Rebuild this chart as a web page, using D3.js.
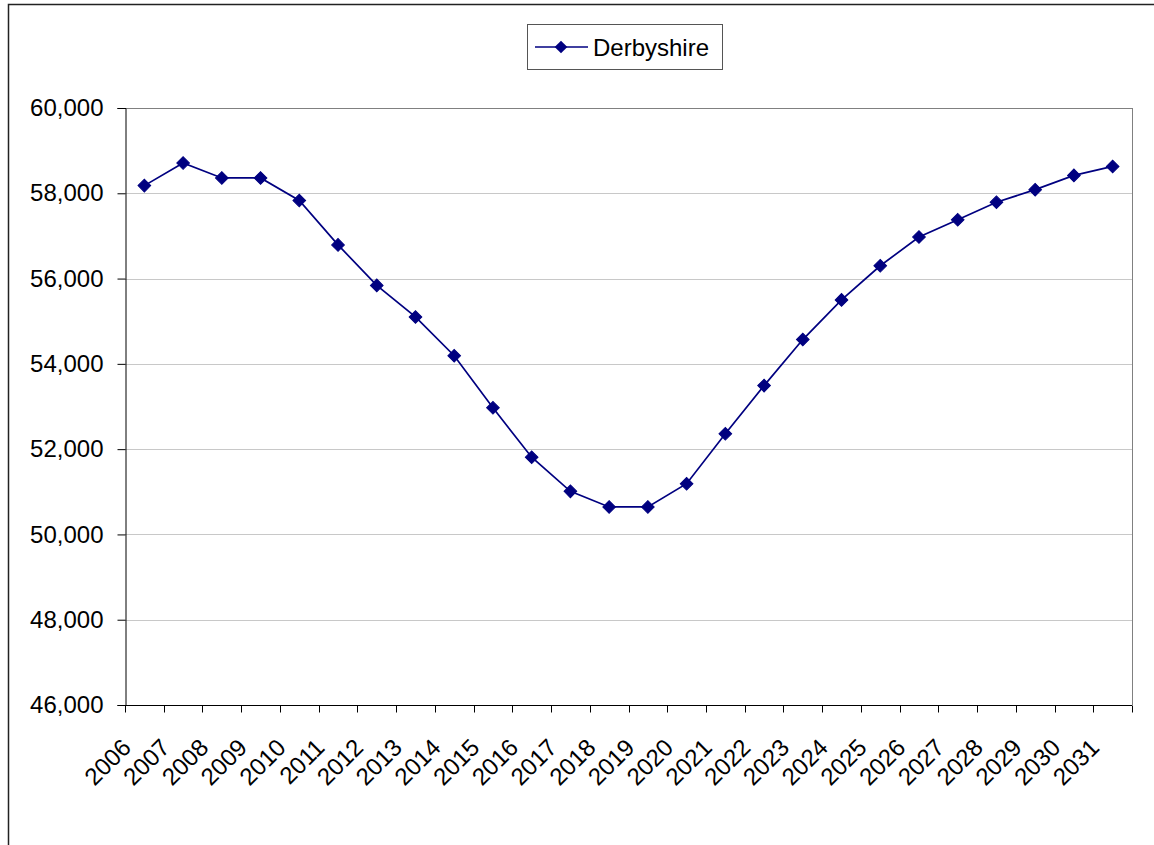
<!DOCTYPE html>
<html><head><meta charset="utf-8">
<script src="https://cdn.jsdelivr.net/npm/d3@7"></script>
<style>body{margin:0;background:#fff}svg{display:block;font-family:"Liberation Sans",Arial,sans-serif}</style>
</head><body>
<script>
const years = ["2006","2007","2008","2009","2010","2011","2012","2013","2014","2015","2016","2017","2018","2019","2020","2021","2022","2023","2024","2025","2026","2027","2028","2029","2030","2031"];
const derbyshire = [58180,58710,58360,58360,57830,56790,55840,55100,54190,52970,51810,51010,50645,50645,51190,52360,53490,54570,55500,56300,56975,57380,57790,58085,58420,58630];
const yTicks = [46000,48000,50000,52000,54000,56000,58000,60000];
const seriesName = "Derbyshire";

const W=1154,H=845,FS=24;
const svg=d3.select("body").append("svg").attr("width",W).attr("height",H);
svg.append("rect").attr("x",8.5).attr("y",4.5).attr("width",W+10).attr("height",H+20).attr("fill","none").attr("stroke","#222").attr("stroke-width",1.5);

const L=125,R=1132,T=108,B=705;
const x=d3.scaleBand().domain(years).range([L,R]);
const y=d3.scaleLinear().domain([46000,60000]).range([B,T]);

// gridlines
svg.append("g").selectAll("line").data(yTicks.slice(1)).join("line")
  .attr("x1",L).attr("x2",R).attr("y1",d=>Math.round(y(d))+0.5).attr("y2",d=>Math.round(y(d))+0.5)
  .attr("stroke",d=>d===60000?"#808080":"#c8c8c8").attr("stroke-width",1);
svg.append("line").attr("x1",R+0.5).attr("x2",R+0.5).attr("y1",T).attr("y2",B).attr("stroke","#808080");

// y axis
const ya=svg.append("g").attr("transform",`translate(${L+0.5},0)`)
  .call(d3.axisLeft(y).tickValues(yTicks).tickSize(8).tickPadding(14).tickFormat(d3.format(",")));
ya.attr("font-size",FS).attr("font-family","Liberation Sans, Arial, sans-serif");
ya.select(".domain").attr("stroke","#000");
ya.selectAll(".tick line").attr("stroke","#000");
ya.selectAll("text").attr("fill","#000");

// x axis
const xa=svg.append("g").attr("transform",`translate(0,${B+0.5})`)
  .call(d3.axisBottom(x).tickSize(0).tickFormat(""));
xa.select(".domain").attr("stroke","#000").attr("d",`M${L},0H${R}`);
const edges=years.map(d=>x(d)).concat([R]);
xa.selectAll("line.edge").data(edges).join("line").attr("class","edge")
  .attr("x1",d=>Math.round(d)+0.5).attr("x2",d=>Math.round(d)+0.5).attr("y1",0).attr("y2",7).attr("stroke","#000");
svg.append("g").selectAll("text").data(years).join("text")
  .attr("transform",d=>`translate(${x(d)+x.bandwidth()/2-12},${B+44}) rotate(-45)`)
  .attr("text-anchor","end").attr("font-size",FS).attr("fill","#000").text(d=>d);

// line
const cx=(d,i)=>x(years[i])+x.bandwidth()/2;
svg.append("path").datum(derbyshire)
  .attr("d",d3.line().x((d,i)=>cx(d,i)).y(d=>y(d)))
  .attr("fill","none").attr("stroke","#000080").attr("stroke-width",1.7);
svg.append("g").selectAll("path").data(derbyshire).join("path")
  .attr("d",d3.symbol().type(d3.symbolSquare).size(80)())
  .attr("transform",(d,i)=>`translate(${cx(d,i)},${y(d)}) rotate(45)`)
  .attr("fill","#000080").attr("stroke","#000080");

// legend
const lg=svg.append("g");
lg.append("rect").attr("x",527.5).attr("y",24.5).attr("width",195).attr("height",45).attr("fill","#fff").attr("stroke","#555");
lg.append("line").attr("x1",535).attr("x2",588).attr("y1",47).attr("y2",47).attr("stroke","#000080").attr("stroke-width",1.7);
lg.append("path").attr("d",d3.symbol().type(d3.symbolSquare).size(80)()).attr("transform","translate(561,47) rotate(45)").attr("fill","#000080");
lg.append("text").attr("x",593).attr("y",56).attr("font-size",FS).attr("fill","#000").text(seriesName);
</script>
</body></html>
